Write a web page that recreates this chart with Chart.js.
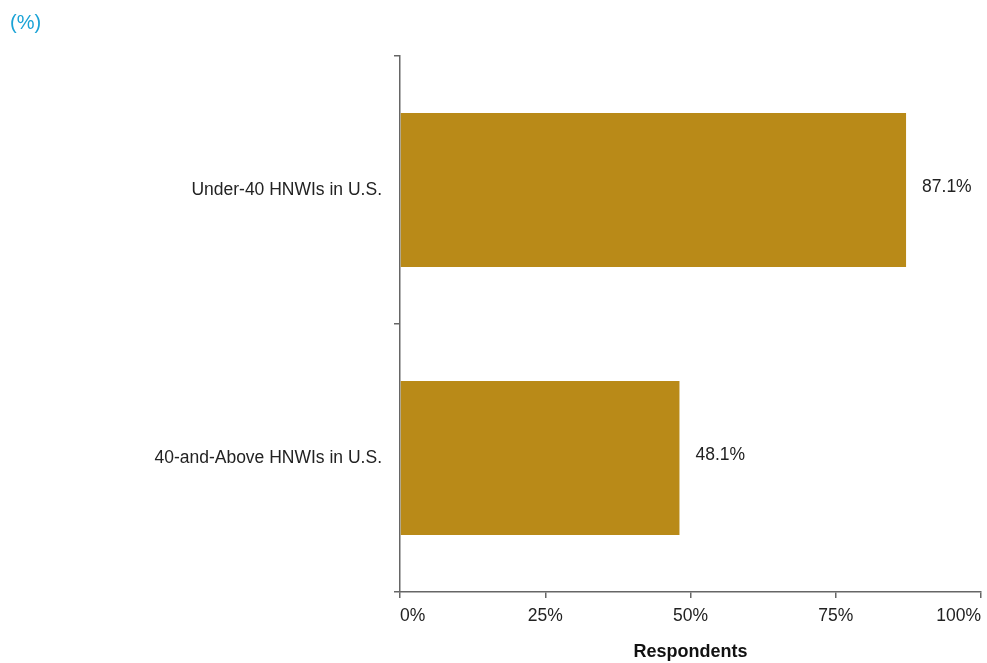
<!DOCTYPE html>
<html>
<head>
<meta charset="utf-8">
<script src="https://cdn.jsdelivr.net/npm/chart.js@4"></script>
<style>
    html, body { margin: 0; padding: 0; background: #fff; }
    #wrap { width: 987px; height: 663px; }
</style>
</head>
<body>
<div id="wrap"><canvas id="respChart"></canvas></div>
<script>
const categories = ['Under-40 HNWIs in U.S.', '40-and-Above HNWIs in U.S.'];
const shares = [87.1, 48.1];
const tickValues = [0, 25, 50, 75, 100];

const barColor = '#B98A18';
const axisColor = '#666666';
const textColor = '#222222';
const fontFamily = '"Liberation Sans", Arial, Helvetica, sans-serif';

// writes the percentage to the right of each bar
const valueLabels = {
    id: 'valueLabels',
    afterDatasetsDraw(chart) {
        const ctx = chart.ctx;
        const meta = chart.getDatasetMeta(0);
        ctx.save();
        ctx.font = '17.5px ' + fontFamily;
        ctx.fillStyle = textColor;
        ctx.textAlign = 'left';
        ctx.textBaseline = 'middle';
        meta.data.forEach((bar, i) => {
            ctx.fillText(shares[i].toFixed(1) + '%', bar.x + 16, bar.y - 3);
        });
        ctx.restore();
    }
};

new Chart(document.getElementById('respChart').getContext('2d'), {
    type: 'bar',
    data: {
        labels: categories,
        datasets: [{
            data: shares,
            backgroundColor: barColor,
            borderWidth: 0,
            barPercentage: 0.575,
            categoryPercentage: 1
        }]
    },
    options: {
        indexAxis: 'y',
        responsive: true,
        maintainAspectRatio: false,
        animation: false,
        layout: { padding: { left: 10, right: 6, top: 0, bottom: 0 } },
        plugins: {
            legend: { display: false },
            tooltip: { enabled: false },
            title: {
                display: true,
                text: '(%)',
                align: 'start',
                color: '#1BA3D6',
                font: { family: fontFamily, size: 20, weight: 'normal' },
                padding: { top: 11, bottom: 21 }
            }
        },
        scales: {
            x: {
                min: 0,
                max: 100,
                afterBuildTicks(scale) {
                    scale.ticks = tickValues.map(v => ({ value: v }));
                },
                afterFit(scale) {
                    scale.height = 71;
                    scale.paddingLeft = 0;
                    scale.paddingRight = 0;
                },
                grid: {
                    drawOnChartArea: false,
                    drawTicks: true,
                    tickLength: 6,
                    color: axisColor,
                    lineWidth: 1.5
                },
                border: { display: true, color: axisColor, width: 1.5 },
                ticks: {
                    align: 'inner',
                    padding: 8,
                    color: textColor,
                    font: { family: fontFamily, size: 17.5 },
                    callback: v => v + '%'
                },
                title: {
                    display: true,
                    text: 'Respondents',
                    color: '#111',
                    font: { family: fontFamily, size: 18, weight: 'bold' },
                    padding: { top: 10, bottom: 0 }
                }
            },
            y: {
                afterFit(scale) { scale.width = 390; },
                grid: {
                    offset: true,
                    drawOnChartArea: false,
                    drawTicks: true,
                    tickLength: 6,
                    color: axisColor,
                    lineWidth: 1.5
                },
                border: { display: true, color: axisColor, width: 1.5 },
                ticks: {
                    padding: 12,
                    color: textColor,
                    font: { family: fontFamily, size: 17.5 }
                }
            }
        }
    },
    plugins: [valueLabels]
});
</script>
</body>
</html>
